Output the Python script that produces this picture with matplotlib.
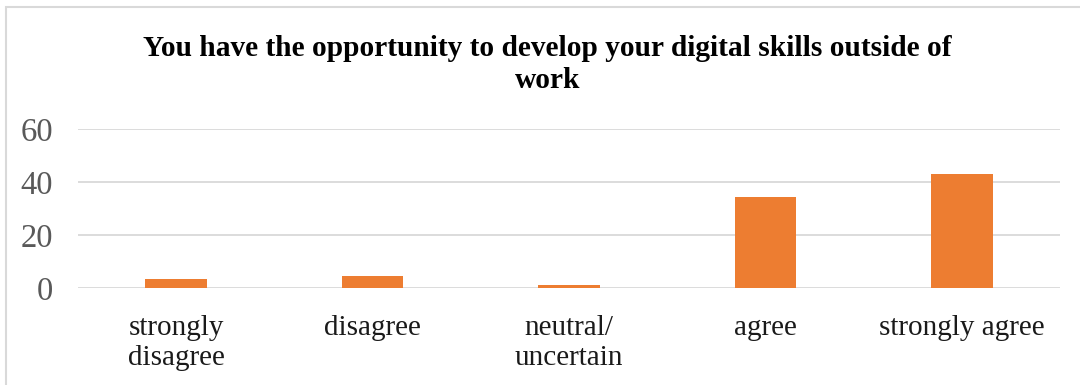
import matplotlib.pyplot as plt
from matplotlib.patches import Rectangle

categories = ["strongly\ndisagree", "disagree", "neutral/\nuncertain", "agree", "strongly agree"]
values = [3.5, 4.5, 1.2, 34.5, 43.2]
y_ticks = [0, 20, 40, 60]

plt.rcParams["font.family"] = ["Liberation Serif", "DejaVu Serif"]

fig = plt.figure(figsize=(10.8, 3.85), dpi=100)
ax = fig.add_axes([0.0722, 0.2512, 0.9093, 0.4138])

x = range(len(categories))
ax.bar(x, values, width=0.313, color="#ED7D31", zorder=3)

ax.set_xlim(-0.5, len(categories) - 0.5)
ax.set_ylim(0, 60)
ax.set_yticks(y_ticks)
ax.set_xticks(list(x))
ax.set_xticklabels(categories, fontsize=21, color="#1a1a1a", linespacing=1.2)
ax.tick_params(axis="y", labelsize=23.5, labelcolor="#595959", length=0, pad=18)
ax.tick_params(axis="x", length=0, pad=19)

ax.grid(axis="y", color="#d9d9d9", linewidth=1.3, zorder=0)
for s in ax.spines.values():
    s.set_visible(False)

fig.text(0.507, 0.833, "You have the opportunity to develop your digital skills outside of\nwork",
         ha="center", va="center", fontsize=21.2, fontweight="bold", linespacing=1.25)

# light outline round the chart area
fig.patches.append(Rectangle((6 / 1080, -0.1), 1.2, 1 - 7 / 385 + 0.1,
                             transform=fig.transFigure, fill=False,
                             edgecolor="#d9d9d9", linewidth=1.5))

fig.savefig("out.png", dpi=100)
